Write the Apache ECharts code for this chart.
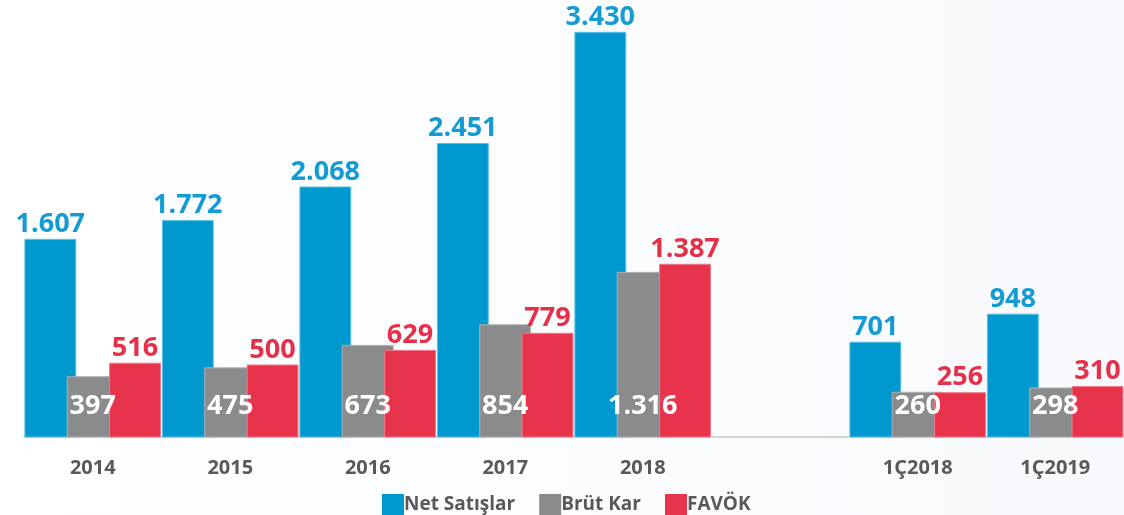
<!DOCTYPE html>
<html>
<head>
<meta charset="utf-8">
<script src="https://cdn.jsdelivr.net/npm/echarts@6/dist/echarts.min.js"></script>
<style>
html,body{margin:0;padding:0;background:#fff;}
#chart{width:1124px;height:515px;}
</style>
</head>
<body>
<div id="chart"></div>
<script>
// ---- data ----
const categories = ['2014', '2015', '2016', '2017', '2018', '', '1Ç2018', '1Ç2019'];
const netSatislar = [1607, 1772, 2068, 2451, 3430, null, 701, 948];
const brutKar     = [397, 475, 673, 854, 1316, null, 260, 298];
const favok       = [516, 500, 629, 779, 1387, null, 256, 310];
const seriesNames = ['Net Satışlar', 'Brüt Kar', 'FAVÖK'];

// ---- style ----
const Y_MIN = -134, Y_MAX = 3600;
const BAR_LEFT = 0.0065, BAR_W = 0.37, BAR_STEP = 0.308;
const colors = ['#0099cf', '#8a8b8d', '#e7344c'];
const strokes = ['#5cc0e6', '#b0b1b3', '#f07a8a'];
const labelColors = ['#139bd3', '#ffffff', '#e5304a'];
const FONT = '"Open Sans", "Noto Sans", sans-serif';

function toData(arr) {
  const out = [];
  arr.forEach((v, i) => { if (v !== null) out.push([i, v]); });
  return out;
}
function fmt(v) {
  return v.toLocaleString('de-DE');
}
function makeRender(idx) {
  return function (params, api) {
    const ci = api.value(0), v = api.value(1);
    const band = api.size([1, 0])[0];
    const top = api.coord([ci, v]);
    const bot = api.coord([ci, Y_MIN]);
    const w = band * BAR_W;
    const x0 = top[0] - band / 2 + band * BAR_LEFT + idx * band * BAR_STEP;
    let lx, ly;
    if (idx === 1) { lx = top[0]; ly = bot[1] - 31; }
    else { lx = x0 + w / 2; ly = top[1] - 15; }
    return {
      type: 'group',
      children: [
        {
          type: 'rect',
          z2: idx,
          shape: { x: x0, y: top[1], width: w, height: bot[1] - top[1] },
          style: { fill: colors[idx], stroke: strokes[idx], lineWidth: 1 }
        },
        {
          type: 'text',
          z2: 10,
          x: lx, y: ly,
          style: {
            text: fmt(v), fill: labelColors[idx],
            font: 'bold 27px ' + FONT,
            align: 'center', verticalAlign: 'middle'
          }
        }
      ]
    };
  };
}

const chart = echarts.init(document.getElementById('chart'));
chart.setOption({
  animation: false,
  backgroundColor: {
    type: 'linear', x: 0, y: 0, x2: 1, y2: 0,
    colorStops: [
      { offset: 0, color: '#ffffff' },
      { offset: 0.25, color: '#fdfeff' },
      { offset: 1, color: '#f7f9fc' }
    ]
  },
  grid: { left: 24, top: 13, width: 1103, bottom: 78, containLabel: false },
  legend: {
    data: seriesNames,
    left: 377, top: 489,
    itemWidth: 22, itemHeight: 22, itemGap: 24,
    icon: 'rect',
    textStyle: { fontFamily: FONT, fontWeight: 'bold', fontSize: 19, color: '#595959', padding: [0, 0, 0, -5] }
  },
  xAxis: {
    type: 'category',
    data: categories,
    boundaryGap: true,
    axisLine: { onZero: false, lineStyle: { color: '#d4d4d4', width: 2 } },
    axisTick: { show: false },
    axisLabel: { fontFamily: FONT, fontWeight: 'bold', fontSize: 20, color: '#595959', margin: 21, interval: 0 }
  },
  yAxis: {
    type: 'value', min: Y_MIN, max: Y_MAX, show: false,
    splitLine: { show: false }
  },
  series: [netSatislar, brutKar, favok].map((arr, i) => ({
    type: 'custom',
    name: seriesNames[i],
    itemStyle: { color: colors[i] },
    renderItem: makeRender(i),
    encode: { x: 0, y: 1 },
    data: toData(arr)
  }))
});
</script>
</body>
</html>
